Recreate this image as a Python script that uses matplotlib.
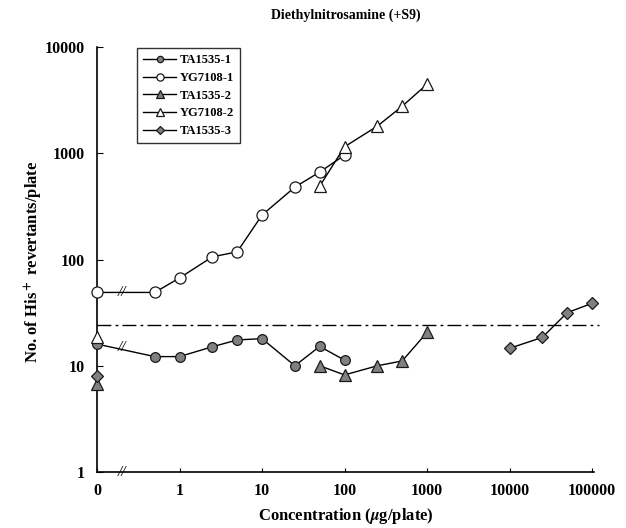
"""Diethylnitrosamine (+S9) dose-response plot, log-log with a '0' dose slot."""
import matplotlib
matplotlib.use("Agg")
import matplotlib.pyplot as plt

plt.rcParams["font.family"] = ["Liberation Serif", "DejaVu Serif"]
plt.rcParams["font.weight"] = "bold"
plt.rcParams["mathtext.fontset"] = "stix"

# the "0" dose is drawn at this position on the log axis
ZERO_POS = 0.1

# data (concentration in ug/plate, revertants/plate)
ta1_x = [0, 0.5, 1, 2.5, 5, 10, 25, 50, 100]
ta1_y = [16, 12.2, 12.2, 15.1, 17.5, 18, 10, 15.2, 11.3]
yg1_x = [0, 0.5, 1, 2.5, 5, 10, 25, 50, 100]
yg1_y = [49, 49, 67, 106, 118, 262, 480, 665, 960]
ta2_ctrl_y = 6.8
ta2_x = [50, 100, 250, 500, 1000]
ta2_y = [10, 8.2, 10, 11.1, 20.6]
yg2_ctrl_y = 18.8
yg2_x = [50, 100, 250, 500, 1000]
yg2_y = [490, 1150, 1800, 2770, 4460]
ta3_ctrl_y = 8.0
ta3_x = [10000, 25000, 50000, 100000]
ta3_y = [14.6, 18.5, 31.6, 38.7]
threshold = 24

x_ticks = [0, 1, 10, 100, 1000, 10000, 100000]
x_labels = ["0", "1", "10", "100", "1000", "10000", "100000"]
y_ticks = [1, 10, 100, 1000, 10000]
y_labels = ["1", "10", "100", "1000", "10000"]


def pos(xs):
    return [ZERO_POS if v == 0 else v for v in xs]


GRAY = "#808080"
EDGE = "#1a1a1a"

fig = plt.figure(figsize=(6.26, 5.28), dpi=100)
ax = fig.add_axes([0.155, 0.106, 0.7935, 0.805])
ax.set_xscale("log")
ax.set_yscale("log")
ax.set_xlim(ZERO_POS, 1.05e5)
ax.set_ylim(1, 10000)

kw = dict(color="black", lw=1.0, markeredgecolor=EDGE, markeredgewidth=0.9,
          clip_on=False, zorder=3)

ax.plot(pos(ta1_x), ta1_y, marker="o", ms=7, markerfacecolor=GRAY,
        label="TA1535-1", **kw)
ax.plot(pos(yg1_x), yg1_y, marker="o", ms=8, markerfacecolor="white",
        label="YG7108-1", **kw)
ax.plot(pos(ta2_x), ta2_y, marker="^", ms=8, markerfacecolor=GRAY,
        label="TA1535-2", **kw)
ax.plot([ZERO_POS], [ta2_ctrl_y], marker="^", ms=8, markerfacecolor=GRAY,
        ls="none", **kw)
ax.plot(pos(yg2_x), yg2_y, marker="^", ms=9, markerfacecolor="white",
        label="YG7108-2", **kw)
ax.plot([ZERO_POS], [yg2_ctrl_y], marker="^", ms=9, markerfacecolor="white",
        ls="none", **kw)
ax.plot(pos(ta3_x), ta3_y, marker="D", ms=6, markerfacecolor=GRAY,
        label="TA1535-3", **kw)
ax.plot([ZERO_POS], [ta3_ctrl_y], marker="D", ms=6, markerfacecolor=GRAY,
        ls="none", **kw)

# 2x spontaneous level
ax.plot([ZERO_POS, 1.2e5], [threshold, threshold], color="black", lw=1.0,
        ls=(0, (10, 3, 2, 3)), clip_on=False, zorder=2)

# axis break marks
for yv in (49, 14.8, 1):
    ax.text(0.2, yv, "//", ha="center", va="center", fontsize=11,
            fontweight="normal", style="italic", zorder=4, clip_on=False)

ax.spines["top"].set_visible(False)
ax.spines["right"].set_visible(False)
for s in ("left", "bottom"):
    ax.spines[s].set_linewidth(1.2)

ax.set_xticks(pos(x_ticks))
ax.set_xticklabels(x_labels)
ax.set_yticks(y_ticks)
ax.set_yticklabels(y_labels)
ax.minorticks_off()
ax.tick_params(axis="x", direction="in", length=3, width=0.8, pad=8,
               labelsize=11.5)
ax.tick_params(axis="y", direction="in", length=4, width=0.8, pad=9,
               labelsize=11.5)
for lbl in ax.get_xticklabels() + ax.get_yticklabels():
    lbl.set_fontweight("bold")

leg = ax.legend(loc="upper left", bbox_to_anchor=(0.068, 1.012), frameon=True,
                fancybox=False, edgecolor="black", fontsize=9,
                handlelength=2.6, handletextpad=0.3, labelspacing=0.45,
                borderpad=0.5, markerscale=0.65)
leg.get_frame().set_linewidth(1.0)

fig.text(0.553, 0.972, "Diethylnitrosamine (+S9)", ha="center", va="center",
         fontsize=10, fontweight="bold")
fig.text(0.054, 0.504, "No. of His$^+$ revertants/plate", rotation=90,
         ha="center", va="center", fontsize=12, fontweight="bold")
fig.text(0.553, 0.022, "Concentration ($\\mu$g/plate)", ha="center",
         va="center", fontsize=12, fontweight="bold")

fig.savefig("out.png", dpi=100)
